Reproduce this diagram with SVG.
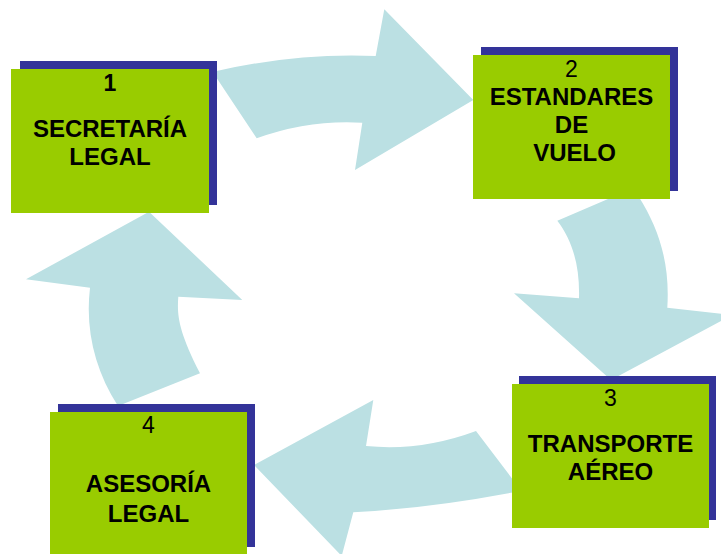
<svg xmlns="http://www.w3.org/2000/svg" width="721" height="554" viewBox="0 0 721 554">
<style>
.arrow{fill:#BBE0E3;stroke:none}
.shadow{fill:#333399}
.box{fill:#99CC00}
text{font-family:"Liberation Sans",Arial,sans-serif;font-size:23px;fill:#000;text-anchor:middle}
.b{font-weight:bold;font-size:24px}
</style>
<rect width="721" height="554" fill="#ffffff"/>
<g id="connectors">
<path class="arrow" d="M212,71 L256.7,138.3 Q308.5,119.5 362.3,122.7 L355,170 L473.3,100 L384.3,9.3 L375.7,56 Q295.8,52.5 212,72 Z"/>
<path class="arrow" d="M557.3,220.7 L615,196 L638.3,196 C660,230 670,265 667.3,307.7 L732,315 L611,380 L514,293.3 L579,298.3 C580,265 572,240 557.3,220.7 Z"/>
<path class="arrow" d="M476,431 L520,489 L520,491 Q432.7,508 353.3,512.3 L341.7,556 L254,465 L373.3,400 L366,446 Q421,451.5 476,431 Z"/>
<path class="arrow" d="M149,211.7 L242.3,300 L178.3,296.7 C177,315 178,330 200,373.3 L118,406 C95,370 85,330 90,287.7 L26,279.3 Z"/>
</g>
<g id="node1">
<rect class="shadow" x="20" y="61" width="197" height="144"/>
<rect class="box" x="11" y="69" width="198" height="144"/>
<text class="b" x="110" y="91" style="font-size:23px">1</text>
<text class="b" x="110" y="137">SECRETARÍA</text>
<text class="b" x="110" y="165">LEGAL</text>
</g>
<g id="node2">
<rect class="shadow" x="481" y="47" width="197" height="144"/>
<rect class="box" x="473" y="55" width="197" height="144"/>
<text x="571.5" y="77">2</text>
<text class="b" x="571.5" y="104.5">ESTANDARES</text>
<text class="b" x="571.5" y="132.5">DE</text>
<text class="b" x="574.5" y="160.5">VUELO</text>
</g>
<g id="node3">
<rect class="shadow" x="519" y="376" width="197" height="144"/>
<rect class="box" x="512" y="384" width="197" height="144"/>
<text x="610.5" y="405.5">3</text>
<text class="b" x="610.5" y="451.5">TRANSPORTE</text>
<text class="b" x="610.5" y="480">AÉREO</text>
</g>
<g id="node4">
<rect class="shadow" x="58" y="404" width="197" height="143"/>
<rect class="box" x="50" y="412" width="197" height="142"/>
<text x="148.5" y="433">4</text>
<text class="b" x="148.5" y="491.5">ASESORÍA</text>
<text class="b" x="148.5" y="521.5">LEGAL</text>
</g>
</svg>
